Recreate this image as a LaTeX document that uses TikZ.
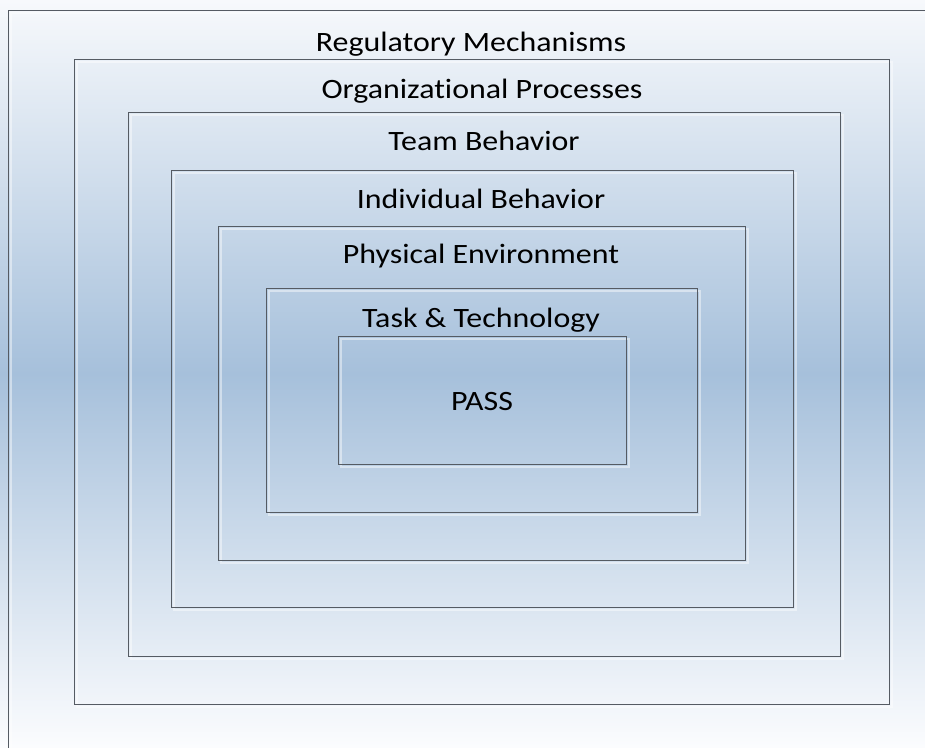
\documentclass[tikz,border=0pt]{standalone}
\usepackage{fontspec}
\setmainfont{Carlito}[Ligatures=NoCommon]
\definecolor{bgtop}{HTML}{F7F9FC}
\definecolor{bgmid}{HTML}{A6C0DB}
\definecolor{bgbot}{HTML}{FBFCFE}
\definecolor{edge}{HTML}{555B63}
\tikzset{
  layer/.style={draw=edge, line width=0.9pt, fill=none, inner sep=0pt, anchor=north west},
  lbl/.style={font=\fontsize{28}{32}\selectfont, text=black, inner sep=0pt, anchor=base, xscale=1.14},
}
\newcommand{\layerbox}[5]{% name, x1, y1, x2, y2
  \draw[white, opacity=0.45, line width=1.6pt] (#2+3,#3+3) rectangle (#4+3,#5+3);
  \node[layer, minimum width=#4-#2, minimum height=#5-#3] (#1) at (#2,#3) {};
}
\begin{document}
\begin{tikzpicture}[x=1pt, y=-1pt]
\useasboundingbox (0,0) rectangle (925,747);
\clip (0,0) rectangle (925,747);
\shade[top color=bgtop, bottom color=bgbot, middle color=bgmid] (0,0) rectangle (925,747);
\layerbox{r1}{8}{10}{935}{760}
\layerbox{r2}{74}{59}{889}{704}
\layerbox{r3}{128}{112}{840}{656}
\layerbox{r4}{171}{170}{793}{607}
\layerbox{r5}{218}{226}{745}{560}
\layerbox{r6}{266}{288}{697}{512}
\layerbox{r7}{338}{336}{626}{464}
\node[lbl] (t1) at (471,51) {Regulatory Mechanisms};
\node[lbl] (t2) at (482,98) {Organizational Processes};
\node[lbl] (t3) at (484,150) {Team Behavior};
\node[lbl] (t4) at (481,208) {Individual Behavior};
\node[lbl] (t5) at (481,263) {Physical Environment};
\node[lbl] (t6) at (481,327) {Task \& Technology};
\node[lbl] (t7) at (482,410) {PASS};
\end{tikzpicture}
\end{document}
